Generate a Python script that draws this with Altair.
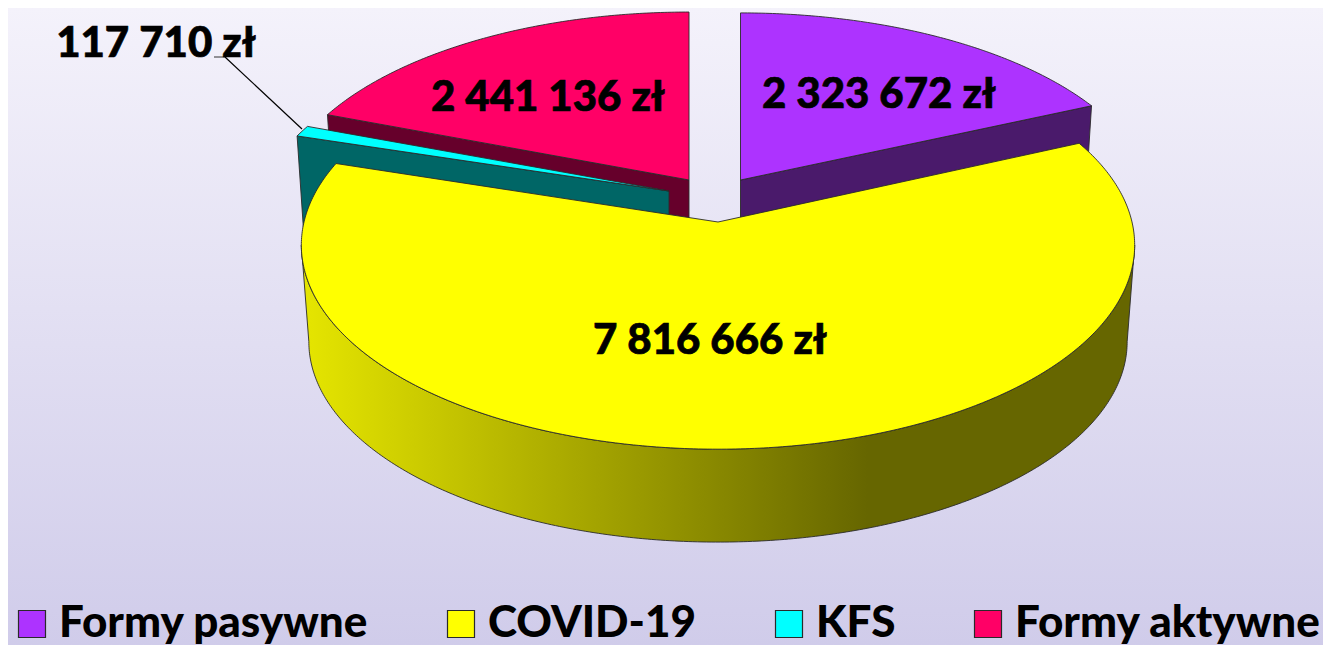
import math
import altair as alt

NAMES = ["Formy pasywne", "COVID-19", "KFS", "Formy aktywne"]
VALUES = [2323672, 7816666, 117710, 2441136]
TOP_COLORS = ["#AD33FF", "#FFFF00", "#00FFFF", "#FF0066"]
SIDE_COLORS = ["#4A1A6B", "#666600", "#006666", "#66002B"]

W, H = 1315, 637
FONT = "Lato"
WEIGHT = 900
EDGE = "#2a2a2a"

# view of the tilted pie for each slice: apex x, apex y, radius x, radius y, perspective
VIEW = {
    "Formy pasywne": (740.5, 180, 409, 193, 0.155),
    "COVID-19": (718, 222, 414, 201.5, 0.113),
    "KFS": (669, 191, 408, 192, 0.155),
    "Formy aktywne": (689, 180, 408, 194, 0.155),
}
DEPTH = 97
SHRINK = 0.982

total = sum(VALUES)
angles = {}
acc = 0.0
for n, v in zip(NAMES, VALUES):
    angles[n] = (acc, acc + v / total * 2 * math.pi)
    acc += v / total * 2 * math.pi


def pt(name, th, low=False):
    cx, cy, rx, ry, k = VIEW[name]
    u, v = math.sin(th), math.cos(th)
    w = 1 + k * v
    s = SHRINK if low else 1
    d = DEPTH if low else 0
    return [cx + s * rx * u / w - 8, cy + d - s * ry * v / w - 8]


def apex(name, low=False):
    cx, cy, *_ = VIEW[name]
    return [cx - 8, cy + (DEPTH if low else 0) - 8]


def arc(name, a, b, low=False):
    n = max(2, int(abs(b - a) / 0.01))
    return [pt(name, a + (b - a) * i / n, low) for i in range(n + 1)]


def feature(name, ring):
    ring = ring + [ring[0]]
    return {"type": "Feature", "properties": {"name": name},
            "geometry": {"type": "Polygon", "coordinates": [ring]}}


def shape(feat, **mark):
    return alt.Chart(alt.Data(values=[feat])).mark_geoshape(
        stroke=EDGE, strokeWidth=0.9, **mark
    ).project(type="identity", scale=1, translate=[0, 0])


def top(name):
    a, b = angles[name]
    ring = [apex(name)] + arc(name, a, b)
    return alt.Chart(alt.Data(values=[feature(name, ring)])).mark_geoshape(
        stroke=EDGE, strokeWidth=0.9
    ).encode(
        color=alt.Color(
            "properties.name:N",
            scale=alt.Scale(domain=NAMES, range=TOP_COLORS),
            legend=alt.Legend(
                title=None, orient="none", legendX=2, legendY=594,
                direction="horizontal", columns=4, columnPadding=70,
                symbolType="square", symbolSize=729, symbolStrokeColor=EDGE,
                symbolStrokeWidth=1.2, labelFont=FONT, labelFontWeight=WEIGHT,
                labelFontSize=44, labelColor="black", labelOffset=5,
                labelLimit=500, symbolOffset=0,
            ),
        )
    ).project(type="identity", scale=1, translate=[0, 0])


def radial(name, th):
    ring = [apex(name), pt(name, th), pt(name, th, True), apex(name, True)]
    i = NAMES.index(name)
    return shape(feature(name, ring), fill=SIDE_COLORS[i])


bg = alt.Chart(alt.Data(values=[{"a": 1}])).mark_rect(
    fill=alt.Gradient(
        gradient="linear", x1=0, x2=0, y1=0, y2=1,
        stops=[alt.GradientStop(offset=0, color="#F4F2FB"),
               alt.GradientStop(offset=1, color="#D0CCEA")],
    )
).encode(x=alt.value(0), x2=alt.value(W), y=alt.value(0), y2=alt.value(H))

# outer wall of the big slice, between the two silhouette tangents
k_y = VIEW["COVID-19"][4]
t_r = math.acos(-k_y)
t_l = 2 * math.pi - t_r
yellow_side = shape(
    feature("COVID-19", arc("COVID-19", t_r, t_l) + arc("COVID-19", t_l, t_r, True)),
    fill=alt.Gradient(
        gradient="linear", x1=0, x2=1, y1=0, y2=0,
        stops=[alt.GradientStop(offset=0, color="#E6E600"),
               alt.GradientStop(offset=0.68, color="#666600"),
               alt.GradientStop(offset=1, color="#666600")],
    ),
)

LABEL_AT = {
    "Formy pasywne": (879, 95),
    "COVID-19": (710, 341),
    "Formy aktywne": (548, 98),
    "KFS": (156, 44),
}


def label(name):
    v = VALUES[NAMES.index(name)]
    x, y = LABEL_AT[name]
    txt = f"{v:,}".replace(",", " ") + " zł"
    return alt.Chart(alt.Data(values=[{"t": txt}])).mark_text(
        font=FONT, fontWeight=WEIGHT, fontSize=42, color="black",
        stroke="black", strokeWidth=0.7, align="center", baseline="middle",
    ).encode(x=alt.value(x - 8), y=alt.value(y - 8), text="t:N")


leader1 = alt.Chart(alt.Data(values=[{"a": 1}])).mark_rule(color="black", strokeWidth=1.2).encode(
    x=alt.value(302 - 8), x2=alt.value(225 - 8), y=alt.value(129 - 8), y2=alt.value(57 - 8))
leader2 = alt.Chart(alt.Data(values=[{"a": 1}])).mark_rule(color="#333333", strokeWidth=1).encode(
    x=alt.value(214 - 8), x2=alt.value(225 - 8), y=alt.value(57 - 8), y2=alt.value(57 - 8))

pa, pb = angles["Formy aktywne"]
ka, kb = angles["KFS"]
sa, sb = angles["Formy pasywne"]

chart = alt.layer(
    bg,
    radial("Formy aktywne", pa), top("Formy aktywne"),
    radial("KFS", ka), top("KFS"),
    radial("Formy pasywne", sb), top("Formy pasywne"),
    yellow_side, top("COVID-19"),
    leader1, leader2,
    label("Formy pasywne"), label("COVID-19"), label("Formy aktywne"), label("KFS"),
).properties(
    width=W, height=H, padding=0, autosize=alt.AutoSizeParams(type="none")
).configure_view(stroke=None)

chart.save("out.html", embed_options={"renderer": "svg", "actions": False})
